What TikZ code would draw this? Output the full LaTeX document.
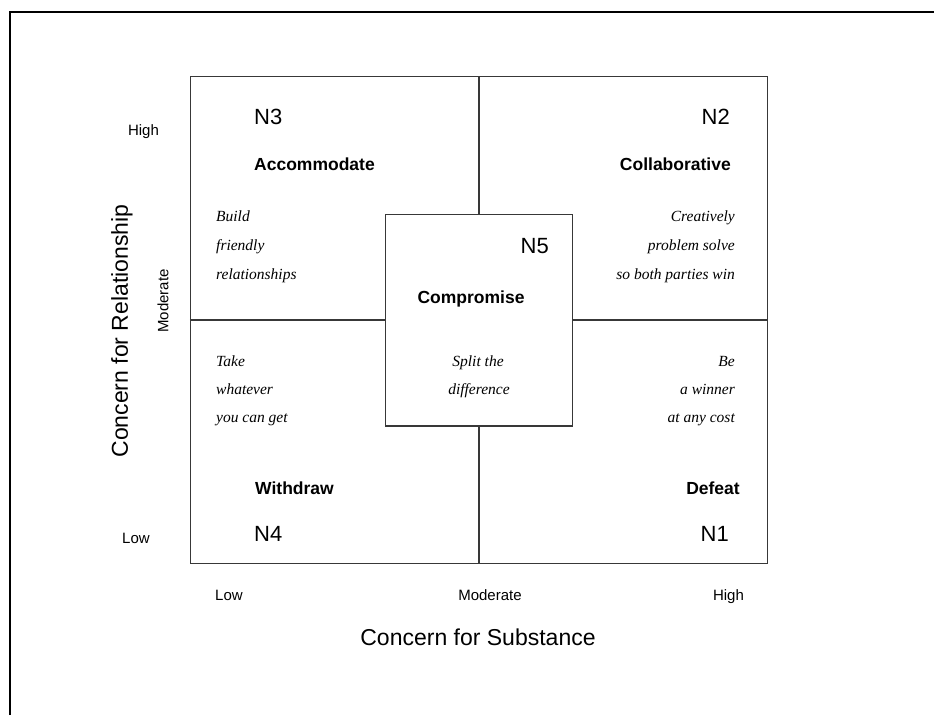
\documentclass[tikz,border=0pt]{standalone}
\usepackage{fontspec}
\setmainfont{Liberation Serif}
\setsansfont{Liberation Sans}
\begin{document}
\begin{tikzpicture}[x=1pt,y=-1pt,
  gridline/.style={draw=black!78, line width=1.3pt},
  nlabel/.style={font=\sffamily\fontsize{22}{26}\selectfont, inner sep=0pt},
  stylename/.style={font=\sffamily\bfseries\fontsize{17.5}{21}\selectfont, inner sep=0pt},
  desc/.style={font=\rmfamily\itshape\fontsize{15.5}{18}\selectfont, inner sep=0pt},
  ticklabel/.style={font=\sffamily\fontsize{15}{18}\selectfont, inner sep=0pt},
  axistitle/.style={font=\sffamily\fontsize{23}{27}\selectfont, inner sep=0pt}]
\useasboundingbox (0,0) rectangle (934,715);

% page frame (left and top edges)
\coordinate (fa) at (10,715);
\coordinate (fb) at (10,11.5);
\coordinate (fc) at (934,11.5);
\draw[line width=2pt] (fa) -- (fb) -- (fc);

% outer grid and quadrant dividers
\node[gridline, minimum width=576.8pt, minimum height=486.6pt, inner sep=0pt] (grid) at (479,320) {};
\draw[gridline] (grid.north) -- (grid.south);
\draw[gridline] (grid.west) -- (grid.east);
% central compromise box
\node[gridline, fill=white, minimum width=186.6pt, minimum height=211.7pt, inner sep=0pt] (mid) at (479,320) {};

% N3: accommodate
\node[nlabel, anchor=base west] (n3) at (254,124) {N3};
\node[stylename, anchor=base west] (acc) at (254,170) {Accommodate};
\node[desc, anchor=base west] (a1) at (216,221) {Build};
\node[desc, anchor=base west] (a2) at (216,250) {friendly};
\node[desc, anchor=base west] (a3) at (216,279) {relationships};

% N2: collaborative
\node[nlabel, anchor=base east] (n2) at (730,124) {N2};
\node[stylename, anchor=base east] (col) at (731,170) {Collaborative};
\node[desc, anchor=base east] (c1) at (735,221) {Creatively};
\node[desc, anchor=base east] (c2) at (735,250) {problem solve};
\node[desc, anchor=base east] (c3) at (735,279) {so both parties win};

% N5: compromise
\node[nlabel, anchor=base east] (n5) at (549,253) {N5};
\node[stylename, anchor=base] (comp) at (471,303) {Compromise};
\node[desc, anchor=base] (m1) at (478,366) {Split the};
\node[desc, anchor=base] (m2) at (479,394) {difference};

% N4: withdraw
\node[desc, anchor=base west] (w1) at (216,366) {Take};
\node[desc, anchor=base west] (w2) at (216,394) {whatever};
\node[desc, anchor=base west] (w3) at (216,422) {you can get};
\node[stylename, anchor=base west] (wd) at (255,494) {Withdraw};
\node[nlabel, anchor=base west] (n4) at (254,541) {N4};

% N1: defeat
\node[desc, anchor=base east] (d1) at (735,366) {Be};
\node[desc, anchor=base east] (d2) at (735,394) {a winner};
\node[desc, anchor=base east] (d3) at (735,422) {at any cost};
\node[stylename, anchor=base] (def) at (713,494) {Defeat};
\node[nlabel, anchor=base east] (n1) at (729,541) {N1};

% vertical axis
\node[ticklabel, anchor=base] (yhigh) at (143.5,135) {High};
\node[ticklabel, rotate=90] (ymod) at (163,301) {Moderate};
\node[ticklabel, anchor=base] (ylow) at (136,543) {Low};
\node[axistitle, rotate=90] (ytitle) at (122,331) {Concern for Relationship};

% horizontal axis
\node[ticklabel, anchor=base] (xlow) at (229,600) {Low};
\node[ticklabel, anchor=base] (xmod) at (490,600) {Moderate};
\node[ticklabel, anchor=base] (xhigh) at (728.5,600) {High};
\node[axistitle, anchor=base] (xtitle) at (478,645) {Concern for Substance};
\end{tikzpicture}
\end{document}
